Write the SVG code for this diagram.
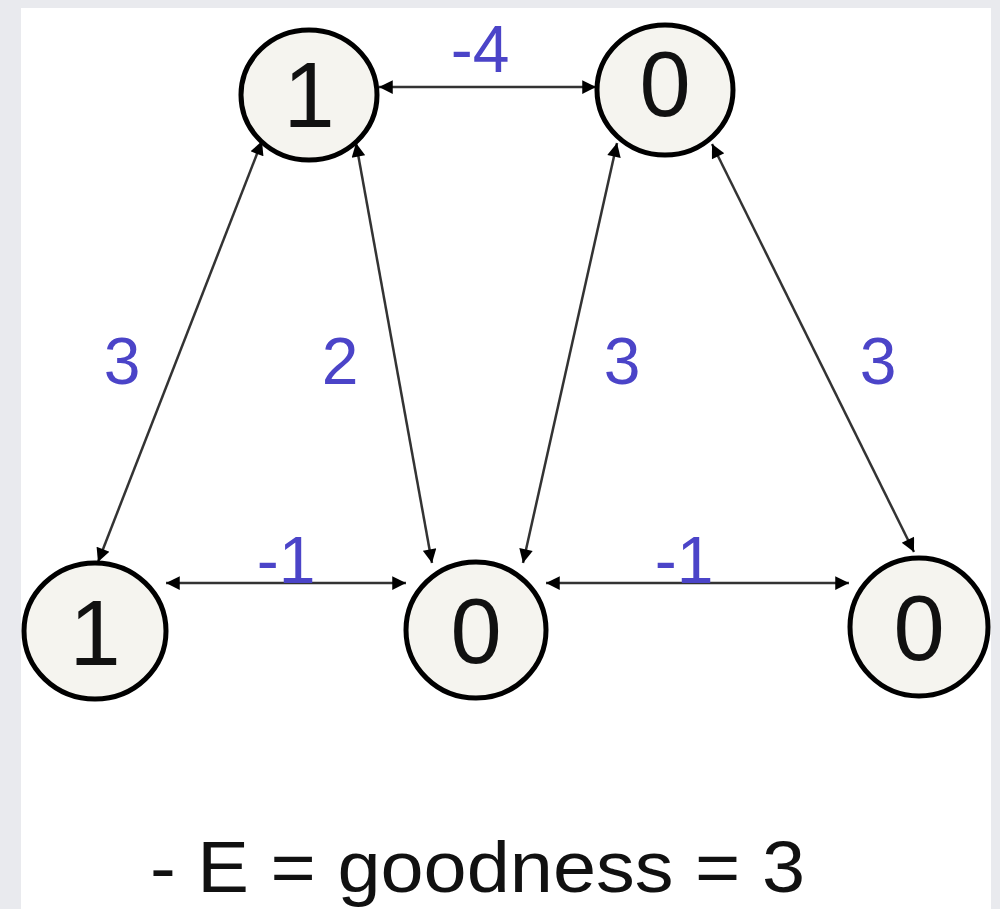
<svg xmlns="http://www.w3.org/2000/svg" width="1000" height="909" viewBox="0 0 1000 909">
<style>
.node ellipse{fill:#f5f4ef;stroke:#000;stroke-width:5}
.node text{font-family:"Liberation Sans",Arial,sans-serif;font-size:92px;fill:#111;text-anchor:middle}
.edge{stroke:#333;stroke-width:2.5;fill:none;marker-start:url(#ah);marker-end:url(#ah)}
.lbl{font-family:"Liberation Sans",Arial,sans-serif;font-size:66px;fill:#4b44c8;text-anchor:middle}
.cap{font-family:"Liberation Sans",Arial,sans-serif;font-size:72px;fill:#111}
</style>
<defs>
<marker id="ah" viewBox="0 0 10 10" refX="10" refY="5" markerWidth="6.5" markerHeight="5.5" markerUnits="strokeWidth" orient="auto-start-reverse">
<path d="M0,0 L10,5 L0,10 z" fill="#000"/>
</marker>
</defs>
<rect width="1000" height="909" fill="#e9eaee"/>
<rect x="21" y="8" width="970" height="901" fill="#fff"/>
<g id="connectors">
<line class="edge" x1="379" y1="87" x2="596" y2="87"/>
<line class="edge" x1="262" y1="141" x2="98" y2="562"/>
<line class="edge" x1="356" y1="143" x2="432" y2="563"/>
<line class="edge" x1="617" y1="143" x2="523" y2="563"/>
<line class="edge" x1="712" y1="144" x2="914" y2="552"/>
<line class="edge" x1="166" y1="583" x2="406" y2="583"/>
<line class="edge" x1="546" y1="583" x2="849" y2="583"/>
<text class="lbl" x="480" y="72">-4</text>
<text class="lbl" x="122" y="384">3</text>
<text class="lbl" x="340" y="384">2</text>
<text class="lbl" x="622" y="384">3</text>
<text class="lbl" x="878" y="384">3</text>
<text class="lbl" x="286" y="583">-1</text>
<text class="lbl" x="684" y="583">-1</text>
</g>
<g id="n1" class="node"><ellipse cx="309" cy="95" rx="68" ry="65"/><text x="309" y="127">1</text></g>
<g id="n2" class="node"><ellipse cx="665" cy="90" rx="68" ry="65"/><text x="665" y="116">0</text></g>
<g id="n3" class="node"><ellipse cx="95" cy="631" rx="71" ry="68"/><text x="95" y="665">1</text></g>
<g id="n4" class="node"><ellipse cx="476" cy="630" rx="70" ry="68"/><text x="476" y="663">0</text></g>
<g id="n5" class="node"><ellipse cx="919" cy="627" rx="69" ry="69"/><text x="919" y="660">0</text></g>
<text class="cap" x="150" y="892" textLength="655" lengthAdjust="spacingAndGlyphs">- E = goodness = 3</text>
</svg>
